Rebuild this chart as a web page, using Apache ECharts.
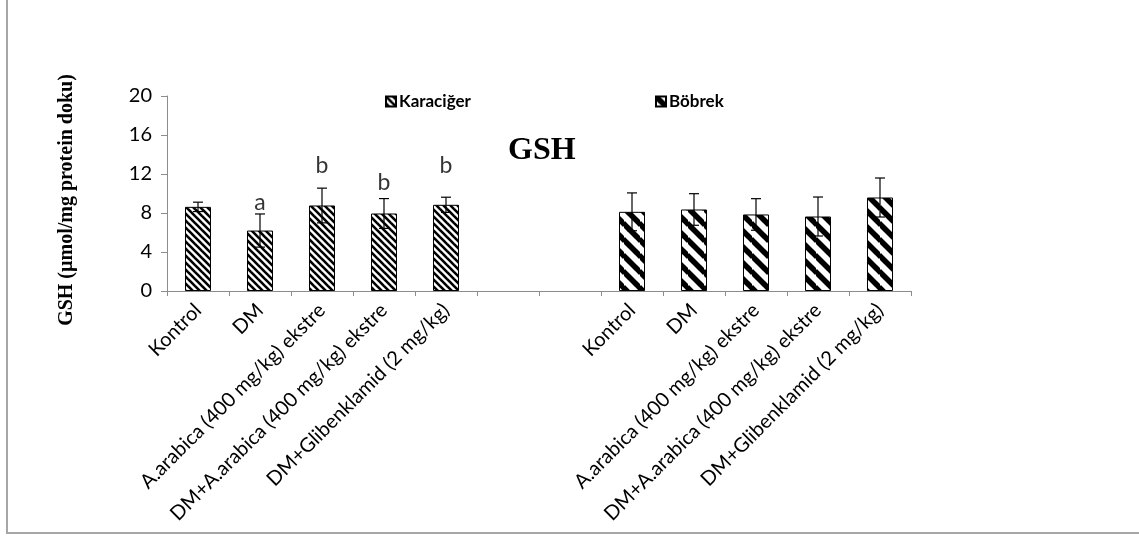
<!DOCTYPE html>
<html>
<head>
<meta charset="utf-8">
<script src="https://cdn.jsdelivr.net/npm/echarts@6/dist/echarts.min.js"></script>
<style>
  html, body { margin: 0; padding: 0; background: #fff; }
  #chart { width: 1139px; height: 536px; }
</style>
</head>
<body>
<div id="chart"></div>
<script>
// Group names (repeated for liver and kidney, two blank slots between)
const groups = ['Kontrol', 'DM', 'A.arabica (400 mg/kg) ekstre', 'DM+A.arabica (400 mg/kg) ekstre', 'DM+Glibenklamid (2 mg/kg)'];
const categories = groups.concat(['', '']).concat(groups);

// GSH (µmol/mg protein) means and SD
const liver = [8.63, 6.2, 8.77, 7.95, 8.84];
const liverErr = [0.48, 1.7, 1.78, 1.53, 0.78];
const kidney = [8.12, 8.36, 7.85, 7.64, 9.59];
const kidneyErr = [1.94, 1.62, 1.62, 2.0, 2.0];

// Significance letters for liver groups and the height they sit at
const letters = ['', 'a', 'b', 'b', 'b'];
const letterY = [0, 9.1, 12.9, 11.1, 12.9];

const yTicks = { min: 0, max: 20, interval: 4 };

const KIDNEY_OFFSET = 7;

function stripePattern(period, lineWidth) {
  const c = document.createElement('canvas');
  c.width = period; c.height = period;
  const ctx = c.getContext('2d');
  ctx.fillStyle = '#fff';
  ctx.fillRect(0, 0, period, period);
  ctx.strokeStyle = '#000';
  ctx.lineWidth = lineWidth;
  for (let k = -1; k <= 1; k++) {
    ctx.beginPath();
    ctx.moveTo(-1, k * period - 1);
    ctx.lineTo(period + 1, period + k * period + 1);
    ctx.stroke();
  }
  return { image: c, repeat: 'repeat' };
}

const liverFill = stripePattern(7, 2.6);
const kidneyFill = stripePattern(16, 5.5);

const liverData = categories.map((_, i) => i < 5 ? liver[i] : null);
const kidneyData = categories.map((_, i) => i >= KIDNEY_OFFSET ? kidney[i - KIDNEY_OFFSET] : null);

const errData = [];
liver.forEach((v, i) => errData.push([i, v - liverErr[i], v + liverErr[i]]));
kidney.forEach((v, i) => errData.push([i + KIDNEY_OFFSET, v - kidneyErr[i], v + kidneyErr[i]]));

const letterData = [];
letters.forEach((l, i) => { if (l) letterData.push({ value: [i, letterY[i]], name: l }); });

const sansFont = 'Lato, "Open Sans", sans-serif';
const serifFont = '"Liberation Serif", "DejaVu Serif", serif';

const chart = echarts.init(document.getElementById('chart'), null, { renderer: 'canvas' });

chart.setOption({
  animation: false,
  backgroundColor: '#fff',
  title: {
    text: 'GSH',
    left: 503,
    top: 130,
    textStyle: { fontFamily: serifFont, fontWeight: 'bold', fontSize: 32, color: '#000' }
  },
  legend: [
    {
      data: ['Karaciğer'], left: 380, top: 88, icon: 'rect',
      itemWidth: 10, itemHeight: 10, itemGap: 4,
      textStyle: { fontFamily: sansFont, fontWeight: 'bold', fontSize: 17, color: '#000', padding: [0, 0, 0, -2] }
    },
    {
      data: ['Böbrek'], left: 650, top: 88, icon: 'rect',
      itemWidth: 10, itemHeight: 10, itemGap: 4,
      textStyle: { fontFamily: sansFont, fontWeight: 'bold', fontSize: 17, color: '#000', padding: [0, 0, 0, -2] }
    }
  ],
  grid: { left: 167, right: 228, top: 96, bottom: 245, containLabel: false },
  xAxis: {
    type: 'category',
    data: categories,
    axisLine: { lineStyle: { color: '#8c8c8c', width: 1 } },
    axisTick: { show: true, length: 5, alignWithLabel: false, interval: 0, lineStyle: { color: '#8c8c8c' } },
    axisLabel: {
      interval: 0, rotate: 45, margin: 16,
      fontFamily: sansFont, fontSize: 20, color: '#000'
    },
    splitLine: { show: false }
  },
  yAxis: {
    type: 'value',
    min: yTicks.min, max: yTicks.max, interval: yTicks.interval,
    axisLine: { show: true, lineStyle: { color: '#8c8c8c', width: 1 } },
    axisTick: { show: true, length: 6, lineStyle: { color: '#8c8c8c' } },
    axisLabel: { margin: 15, fontFamily: sansFont, fontSize: 20, color: '#000' },
    splitLine: { show: false }
  },
  graphic: [
    {
      type: 'text', x: 67, y: 200, rotation: Math.PI / 2,
      style: {
        text: 'GSH (µmol/mg protein doku)', textAlign: 'center', textVerticalAlign: 'middle',
        font: 'bold 20px ' + serifFont, fill: '#000'
      }
    },
    {
      type: 'polyline', silent: true,
      shape: { points: [[7, -2], [7, 533], [1145, 533]] },
      style: { stroke: '#a6a6a6', lineWidth: 2, fill: null }
    }
  ],
  series: [
    {
      name: 'Karaciğer', type: 'bar', data: liverData,
      barWidth: 26, barGap: '-100%',
      itemStyle: { color: liverFill, borderColor: '#000', borderWidth: 1 }
    },
    {
      name: 'Böbrek', type: 'bar', data: kidneyData,
      barWidth: 26, barGap: '-100%',
      itemStyle: { color: kidneyFill, borderColor: '#000', borderWidth: 1 }
    },
    {
      name: 'SD', type: 'custom', data: errData, z: 10,
      encode: { x: 0, y: [1, 2] },
      renderItem: function (params, api) {
        const lo = api.coord([api.value(0), api.value(1)]);
        const hi = api.coord([api.value(0), api.value(2)]);
        const hw = 5;
        const st = { stroke: '#000', lineWidth: 1.2 };
        return {
          type: 'group',
          children: [
            { type: 'line', shape: { x1: lo[0], y1: lo[1], x2: hi[0], y2: hi[1] }, style: st },
            { type: 'line', shape: { x1: hi[0] - hw, y1: hi[1], x2: hi[0] + hw, y2: hi[1] }, style: st },
            { type: 'line', shape: { x1: lo[0] - hw, y1: lo[1], x2: lo[0] + hw, y2: lo[1] }, style: st }
          ]
        };
      }
    },
    {
      name: 'letters', type: 'scatter', data: letterData, symbolSize: 0, z: 11,
      label: {
        show: true, position: 'inside', formatter: p => p.name,
        fontFamily: sansFont, fontSize: 23, color: '#000'
      }
    }
  ]
});
</script>
</body>
</html>
